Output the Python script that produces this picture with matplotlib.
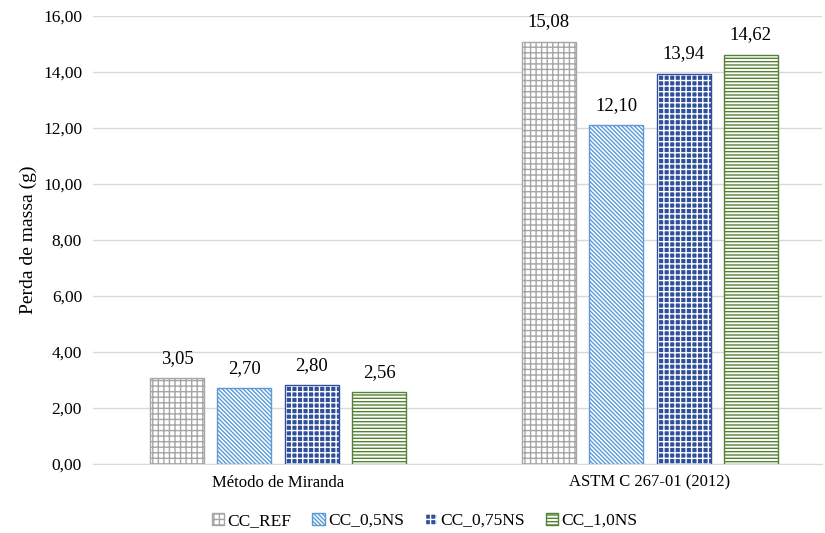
import matplotlib.pyplot as plt
import numpy as np
from matplotlib.patches import Patch

plt.rcParams['font.family'] = ['Liberation Serif', 'DejaVu Serif']
plt.rcParams['hatch.linewidth'] = 1.0

methods = ['Método de Miranda', 'ASTM C 267-01 (2012)']
series = ['CC_REF', 'CC_0,5NS', 'CC_0,75NS', 'CC_1,0NS']
values = [
    [3.05, 15.08],
    [2.70, 12.10],
    [2.80, 13.94],
    [2.56, 14.62],
]

# face, hatch colour, edge, hatch
styles = [
    ('white', '#A6A6A6', '#A6A6A6', '+++'),
    ('white', '#5B9BD5', '#5B9BD5', '\\\\\\\\\\\\\\\\'),
    ('#2F4F9B', 'white', '#2F4F9B', '+++'),
    ('white', '#548235', '#548235', '-----'),
]

fig, ax = plt.subplots(figsize=(8.25, 5.33), dpi=100)
fig.subplots_adjust(left=0.113, right=0.996, top=0.97, bottom=0.13)

x = np.arange(len(methods))
width = 0.145
step = 0.181

for i, (name, vals) in enumerate(zip(series, values)):
    face, hcol, edge, hatch = styles[i]
    pos = x + (i - 1.5) * step
    ax.bar(pos, vals, width, color=face, edgecolor=hcol, hatch=hatch,
           linewidth=0, zorder=2)
    ax.bar(pos, vals, width, fill=False, edgecolor=edge, linewidth=1.0,
           zorder=3)
    for p, v in zip(pos, vals):
        ax.text(p, v + 0.4, f'{v:.2f}'.replace('.', ','), ha='center',
                va='bottom', fontsize=13.5)

handles = []
for i, name in enumerate(series):
    face, hcol, edge, hatch = styles[i]
    handles.append(Patch(facecolor=face, edgecolor=hcol, hatch=hatch, label=name))
fig.legend(handles=handles, loc='center', bbox_to_anchor=(0.515, 0.023),
           ncol=4, frameon=False, fontsize=12.5, handlelength=0.7,
           handleheight=0.7, handletextpad=0.2, columnspacing=1.2)

ax.set_xlim(-0.497, 1.462)
ax.set_ylim(0, 16)
ticks = np.arange(0, 17, 2)
ax.set_yticks(ticks)
ax.set_yticklabels([f'{t:.2f}'.replace('.', ',') for t in ticks], fontsize=12.5)
ax.set_xticks(x)
ax.set_xticklabels(methods, fontsize=12)
ax.set_ylabel('Perda de massa (g)', fontsize=14)
ax.grid(axis='y', color='#D9D9D9', linewidth=1, zorder=0)
ax.tick_params(axis='both', length=0, pad=8)
for s in ['top', 'right', 'left']:
    ax.spines[s].set_visible(False)
ax.spines['bottom'].set_color('#D9D9D9')

plt.savefig('out.png')
